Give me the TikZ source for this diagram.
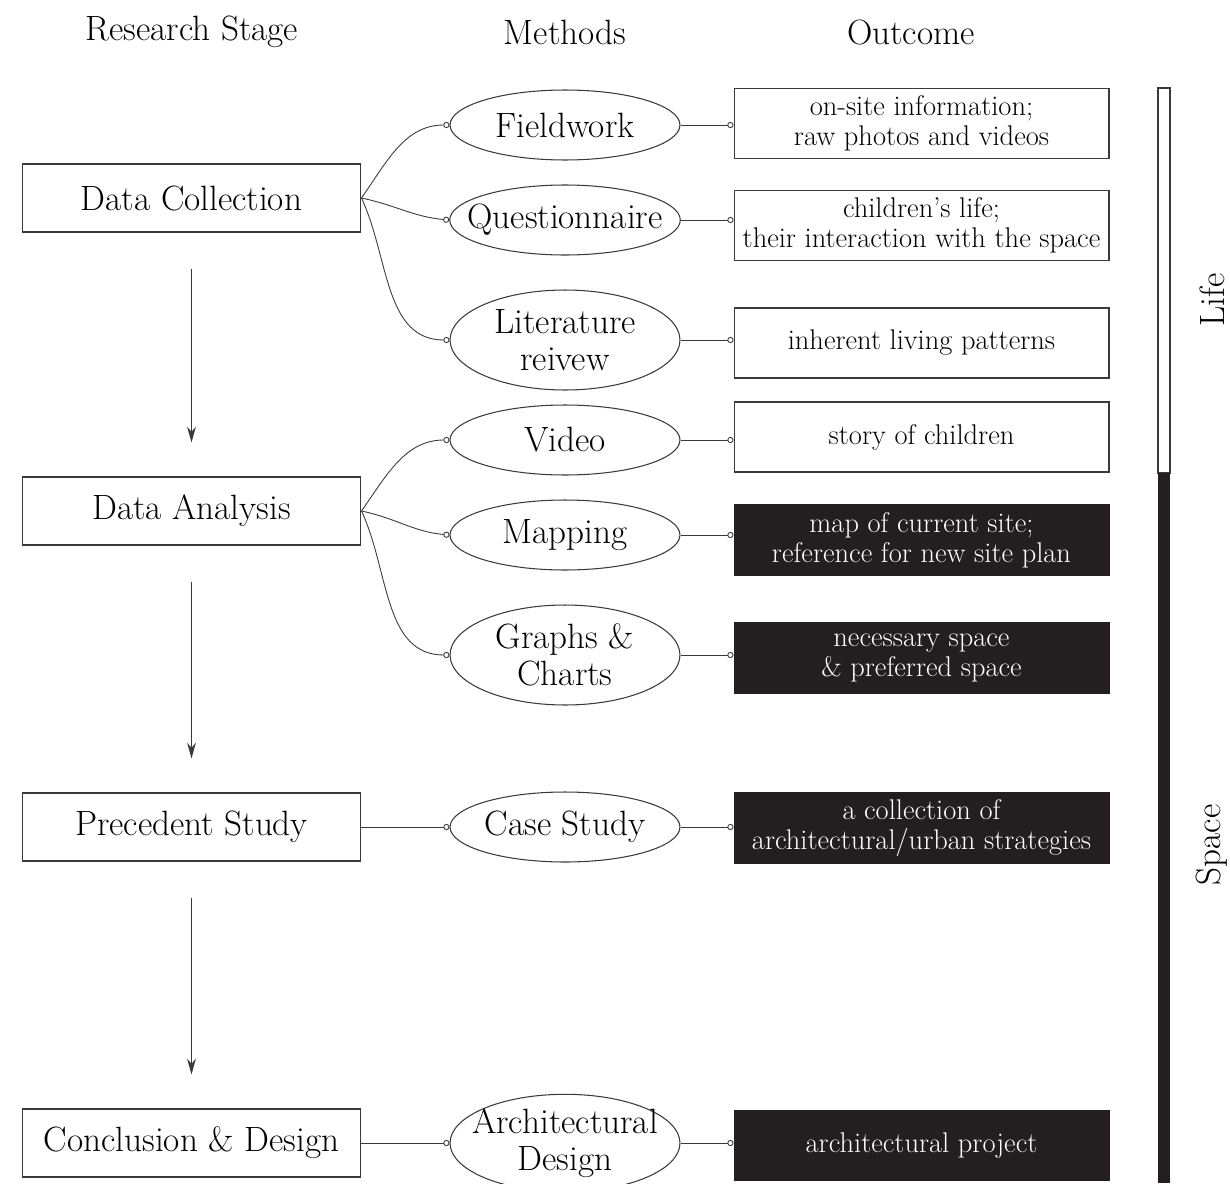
\documentclass[tikz,border=0pt]{standalone}
\usetikzlibrary{arrows.meta, shapes.geometric}
\definecolor{ink}{HTML}{231F20}
\definecolor{rule}{HTML}{3A3A3A}
\tikzset{
  bigtext/.style = {font=\fontsize{20}{21}\selectfont},
  smalltext/.style = {font=\fontsize{16.2}{17}\selectfont},
  stagebox/.style = {rectangle, draw=rule, line width=0.6pt, minimum width=6.78cm, minimum height=1.36cm, bigtext},
  methodell/.style = {ellipse, draw=rule, line width=0.6pt, minimum width=4.6cm, minimum height=1.4cm, inner xsep=-0.32cm, inner ysep=0pt, align=center, bigtext},
  outbox/.style = {rectangle, draw=rule, line width=0.6pt, minimum width=7.5cm, minimum height=1.4cm, align=center, smalltext},
  darkbox/.style = {outbox, fill=ink, draw=ink, text=white},
  dot/.style = {-{Circle[open, length=3.5pt, line width=0.5pt]}}
}
\begin{document}
\begin{tikzpicture}[x=0.02cm, y=-0.02cm]
\useasboundingbox (0,0) rectangle (1230,1183);
% headers
\begin{scope}[every node/.style = {bigtext}]
\node (h1) at (192, 32) {Research Stage};
\node (h2) at (565, 32) {Methods};
\node (h3) at (911, 32) {Outcome};
\node[rotate=90] (life) at (1212, 300) {Life};
\node[rotate=90] (space) at (1212, 845) {Space};
\end{scope}
% stages
\begin{scope}[every node/.style = {stagebox}]
\node (dc) at (191.5, 198) {Data Collection};
\node (da) at (191.5, 511) {Data Analysis};
\node (ps) at (191.5, 827) {Precedent Study};
\node (cd) at (191.5, 1143) {Conclusion \& Design};
\end{scope}
% methods
\begin{scope}[every node/.style = {methodell}]
\node (fw) at (565, 125) {Fieldwork};
\node (qn) at (565, 220) {Questionnaire};
\node[minimum height=2cm] (lr) at (565, 340) {Literature\\reivew};
\node (vd) at (565, 440) {Video};
\node (mp) at (565, 535) {Mapping};
\node[minimum height=2cm] (gc) at (565, 655) {Graphs \&\\Charts};
\node (cs) at (565, 827) {Case Study};
\node[minimum height=1.6cm] (ad) at (565, 1143) {Architectural\\Design};
\end{scope}
% outcomes
\begin{scope}[every node/.style = {outbox}]
\node (o1) at (921.5, 123.5) {on-site information;\\raw photos and videos};
\node (o2) at (921.5, 225.5) {children's life;\\their interaction with the space};
\node (o3) at (921.5, 343) {inherent living patterns};
\node (o4) at (921.5, 437) {story of children};
\node[darkbox] (o5) at (921.5, 540) {map of current site;\\reference for new site plan};
\node[darkbox] (o6) at (921.5, 658) {necessary space\\\& preferred space};
\node[darkbox] (o7) at (921.5, 828) {a collection of\\architectural/urban strategies};
\node[darkbox] (o8) at (921.5, 1145.5) {architectural project};
\end{scope}
% scale bar
\draw[draw=rule, line width=0.8pt, fill=white] (1158, 88) rectangle (1170, 473);
\fill[ink] (1157.6, 473) rectangle (1170.4, 1183);
% connectors
\begin{scope}[every edge/.style = {draw, rule, line width=0.5pt, dot}]
\path (dc.east) edge[out=55, in=180] (fw.west);
\path (dc.east) edge[out=-12, in=175] (qn.west);
\path (dc.east) edge[out=-65, in=180] (lr.west);
\path (da.east) edge[out=55, in=180] (vd.west);
\path (da.east) edge[out=-12, in=175] (mp.west);
\path (da.east) edge[out=-65, in=180] (gc.west);
\path (ps.east) edge (cs.west);
\path (cd.east) edge (ad.west);
\path (fw.east) edge (fw.east -| o1.west);
\path (qn.east) edge (qn.east -| o2.west);
\path (lr.east) edge (lr.east -| o3.west);
\path (vd.east) edge (vd.east -| o4.west);
\path (mp.east) edge (mp.east -| o5.west);
\path (gc.east) edge (gc.east -| o6.west);
\path (cs.east) edge (cs.east -| o7.west);
\path (ad.east) edge (ad.east -| o8.west);
\end{scope}
\begin{scope}[every edge/.style = {draw, rule, line width=0.6pt, -{Stealth[length=9pt, width=5pt]}, shorten <=0.72cm, shorten >=0.68cm}]
\path (dc.south) edge (da.north);
\path (da.south) edge (ps.north);
\path (ps.south) edge (cd.north);
\end{scope}
\end{tikzpicture}
\end{document}
